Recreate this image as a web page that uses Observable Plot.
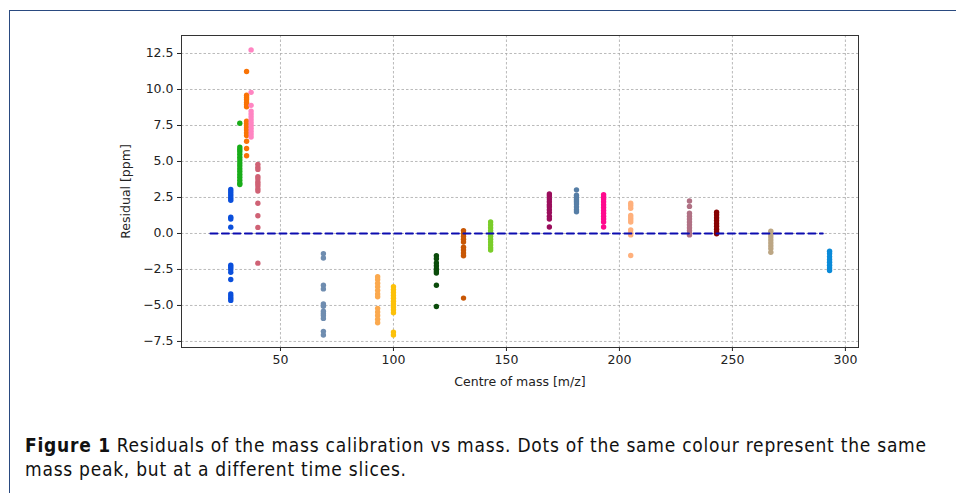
<!DOCTYPE html>
<html>
<head>
<meta charset="utf-8">
<script src="https://cdn.jsdelivr.net/npm/d3@7"></script>
<script src="https://cdn.jsdelivr.net/npm/@observablehq/plot@0.6"></script>
<style>
  html, body { margin: 0; padding: 0; background: #fff; width: 956px; height: 493px; overflow: hidden; }
  #frame { position: absolute; left: 9px; top: 10px; width: 960px; height: 500px;
           border-left: 1.5px solid #2a4a80; border-top: 1.5px solid #2a4a80; }
  #chart { position: absolute; left: 0; top: 0; }
  #caption { position: absolute; left: 25px; top: 433px; width: 925px; white-space: nowrap;
             font-family: "DejaVu Sans Condensed", "DejaVu Sans", sans-serif;
             font-size: 19px; line-height: 24px; letter-spacing: 0.75px; color: #111; }
  #caption b { font-weight: bold; margin-right: 6px; }
</style>
</head>
<body>
<div id="frame"></div>
<div id="chart"></div>
<div id="caption"><b>Figure 1</b>Residuals of the mass calibration vs mass. Dots of the same colour represent the same<br>mass peak, but at a different time slices.</div>
<script>
// Peak masses (m/z) — one colour per peak
const masses = [28, 32, 35, 37, 40, 69, 93, 100, 119, 131, 143, 169, 181, 193, 205, 231, 243, 267, 293];

// Residuals [ppm] for each peak over the time slices
const residuals = [
  [3.05, 2.9, 2.75, 2.6, 2.45, 2.3, 1.13, 1.0, 0.44, -2.2, -2.35, -2.5, -2.7, -3.2, -4.2, -4.35, -4.5, -4.65],
  [7.66, 6.0, 5.85, 5.7, 5.5, 5.3, 5.1, 4.9, 4.7, 4.5, 4.3, 4.1, 3.9, 3.7, 3.5, 3.4],
  [11.25, 9.6, 9.45, 9.3, 9.1, 8.95, 8.8, 7.8, 7.65, 7.5, 7.35, 7.2, 7.0, 6.8, 6.4, 5.9, 5.4],
  [12.75, 9.8, 8.9, 8.5, 8.3, 8.1, 7.9, 7.7, 7.5, 7.3, 7.1, 6.9, 6.7],
  [4.8, 4.6, 4.45, 3.95, 3.8, 3.6, 3.45, 3.3, 3.1, 2.95, 2.1, 1.23, 0.42, -2.06],
  [-1.41, -1.7, -3.6, -3.85, -4.9, -5.05, -5.4, -5.55, -5.7, -5.9, -6.8, -7.05],
  [-3.0, -3.2, -3.45, -3.7, -3.95, -4.2, -4.4, -5.2, -5.45, -5.7, -5.95, -6.2],
  [-3.7, -3.9, -4.1, -4.3, -4.5, -4.7, -4.9, -5.1, -5.3, -5.5, -6.85, -7.05],
  [-1.55, -1.75, -2.05, -2.25, -2.45, -2.6, -2.75, -3.6, -5.07],
  [0.2, 0.0, -0.2, -0.4, -0.6, -0.95, -1.15, -1.35, -1.55, -4.49],
  [0.8, 0.6, 0.4, 0.2, 0.0, -0.2, -0.4, -0.6, -0.8, -1.0, -1.15],
  [2.75, 2.6, 2.4, 2.2, 2.0, 1.85, 1.65, 1.45, 1.2, 1.0, 0.45],
  [3.03, 2.65, 2.5, 2.35, 2.2, 2.05, 1.85, 1.65, 1.5],
  [2.7, 2.55, 2.4, 2.2, 2.0, 1.8, 1.6, 1.4, 1.2, 1.0, 0.8, 0.45],
  [2.1, 1.95, 1.75, 1.25, 1.1, 0.95, 0.8, 0.25, 0.05, -0.1, -1.53],
  [2.25, 1.88, 1.4, 1.2, 1.0, 0.8, 0.6, 0.4, 0.2, 0.0, -0.1],
  [1.48, 1.3, 1.1, 0.9, 0.7, 0.5, 0.3, 0.1, -0.02],
  [0.15, -0.05, -0.25, -0.45, -0.65, -0.85, -1.05, -1.3],
  [-1.23, -1.4, -1.6, -1.8, -2.0, -2.2, -2.4, -2.57]
];

const colours = ["#0a4fdc", "#19ad19", "#f97306", "#ff85c2", "#cf6275", "#6f8db0", "#fba94e", "#fcc10a",
                 "#0b4c0b", "#c85705", "#7acd2a", "#9a0d5c", "#567ea6", "#ff0a8e", "#ffb07c", "#b07184",
                 "#870202", "#bca684", "#0a8ad8"];

// Zero reference line
const refMass = [19, 290];
const refResidual = [0, 0];

const xTicks = [50, 100, 150, 200, 250, 300];
const yTicks = [-7.5, -5.0, -2.5, 0.0, 2.5, 5.0, 7.5, 10.0, 12.5];

const points = masses.flatMap((m, i) => residuals[i].map(r => ({mass: m, residual: r})));
const ref = refMass.map((m, i) => ({mass: m, residual: refResidual[i]}));

const chart = Plot.plot({
  width: 956,
  height: 400,
  marginLeft: 181,
  marginRight: 98,
  marginTop: 35,
  marginBottom: 53,
  style: {fontFamily: "DejaVu Sans, sans-serif", fontSize: "12.5px", color: "#222", background: "transparent"},
  x: {domain: [6.2, 305.8]},
  y: {domain: [-7.92, 13.75]},
  color: {type: "ordinal", domain: masses, range: colours},
  marks: [
    Plot.gridX(xTicks, {stroke: "#a8a8a8", strokeOpacity: 1, strokeDasharray: "2.5,2", strokeWidth: 0.8}),
    Plot.gridY(yTicks, {stroke: "#a8a8a8", strokeOpacity: 1, strokeDasharray: "2.5,2", strokeWidth: 0.8}),
    Plot.axisX(xTicks, {tickSize: 4, tickPadding: 4, tickFormat: d3.format("d"), label: "Centre of mass [m/z]", labelAnchor: "center", labelArrow: "none", labelOffset: 38}),
    Plot.axisY(yTicks, {tickSize: 4, tickPadding: 4, tickFormat: d3.format(".1f"), label: "Residual [ppm]", labelAnchor: "center", labelArrow: "none", labelOffset: 60}),
    Plot.dot(points, {x: "mass", y: "residual", fill: "mass", r: 2.7}),
    Plot.line(ref, {x: "mass", y: "residual", stroke: "#0c0cb0", strokeWidth: 2, strokeDasharray: "7,4.5"}),
    Plot.frame({stroke: "#333", strokeWidth: 1})
  ]
});
document.getElementById("chart").appendChild(chart);
</script>
</body>
</html>
